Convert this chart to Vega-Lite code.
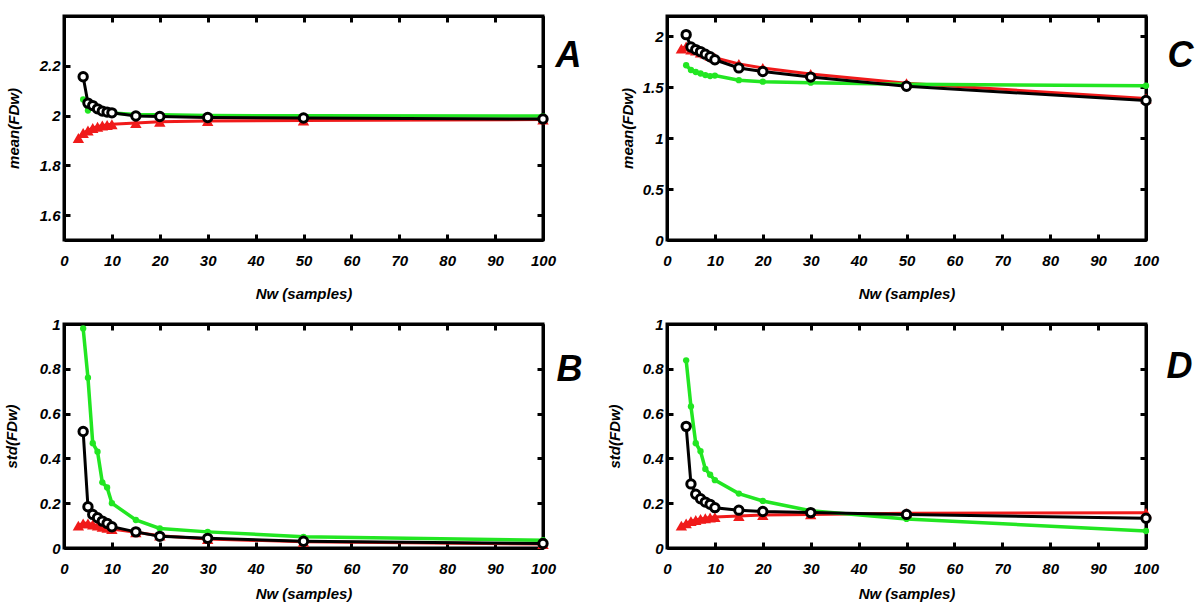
{
  "$schema": "https://vega.github.io/schema/vega-lite/v6.json",
  "autosize": {"type": "pad"},
  "padding": {"left": 2, "top": 13, "right": 5, "bottom": 5},
  "background": "white",
  "bounds": "flush",
  "columns": 2,
  "spacing": {"row": 84, "column": 124},
  "datasets": {
    "d": [
      {"p":"A","s":"red","x":3,"y":1.91},{"p":"A","s":"red","x":4,"y":1.93},{"p":"A","s":"red","x":5,"y":1.94},{"p":"A","s":"red","x":6,"y":1.95},{"p":"A","s":"red","x":7,"y":1.955},{"p":"A","s":"red","x":8,"y":1.96},{"p":"A","s":"red","x":9,"y":1.962},{"p":"A","s":"red","x":10,"y":1.965},{"p":"A","s":"red","x":15,"y":1.97},{"p":"A","s":"red","x":20,"y":1.975},{"p":"A","s":"red","x":30,"y":1.978},{"p":"A","s":"red","x":50,"y":1.98},{"p":"A","s":"red","x":100,"y":1.984},
      {"p":"A","s":"green","x":4,"y":2.065},{"p":"A","s":"green","x":5,"y":2.02},{"p":"A","s":"green","x":6,"y":2.03},{"p":"A","s":"green","x":7,"y":2.022},{"p":"A","s":"green","x":8,"y":2.015},{"p":"A","s":"green","x":9,"y":2.012},{"p":"A","s":"green","x":10,"y":2.01},{"p":"A","s":"green","x":15,"y":2.004},{"p":"A","s":"green","x":20,"y":2.003},{"p":"A","s":"green","x":30,"y":2.0},{"p":"A","s":"green","x":50,"y":1.999},{"p":"A","s":"green","x":100,"y":1.998},
      {"p":"A","s":"black","x":4,"y":2.156},{"p":"A","s":"black","x":5,"y":2.05},{"p":"A","s":"black","x":6,"y":2.04},{"p":"A","s":"black","x":7,"y":2.027},{"p":"A","s":"black","x":8,"y":2.018},{"p":"A","s":"black","x":9,"y":2.014},{"p":"A","s":"black","x":10,"y":2.011},{"p":"A","s":"black","x":15,"y":1.998},{"p":"A","s":"black","x":20,"y":1.996},{"p":"A","s":"black","x":30,"y":1.992},{"p":"A","s":"black","x":50,"y":1.99},{"p":"A","s":"black","x":100,"y":1.986},

      {"p":"C","s":"red","x":3,"y":1.88},{"p":"C","s":"red","x":4,"y":1.9},{"p":"C","s":"red","x":5,"y":1.87},{"p":"C","s":"red","x":6,"y":1.86},{"p":"C","s":"red","x":7,"y":1.84},{"p":"C","s":"red","x":8,"y":1.83},{"p":"C","s":"red","x":9,"y":1.81},{"p":"C","s":"red","x":10,"y":1.79},{"p":"C","s":"red","x":15,"y":1.73},{"p":"C","s":"red","x":20,"y":1.69},{"p":"C","s":"red","x":30,"y":1.63},{"p":"C","s":"red","x":50,"y":1.54},{"p":"C","s":"red","x":100,"y":1.39},
      {"p":"C","s":"green","x":4,"y":1.716},{"p":"C","s":"green","x":5,"y":1.67},{"p":"C","s":"green","x":6,"y":1.65},{"p":"C","s":"green","x":7,"y":1.635},{"p":"C","s":"green","x":8,"y":1.62},{"p":"C","s":"green","x":9,"y":1.61},{"p":"C","s":"green","x":10,"y":1.615},{"p":"C","s":"green","x":15,"y":1.57},{"p":"C","s":"green","x":20,"y":1.555},{"p":"C","s":"green","x":30,"y":1.545},{"p":"C","s":"green","x":50,"y":1.53},{"p":"C","s":"green","x":100,"y":1.515},
      {"p":"C","s":"black","x":4,"y":2.017},{"p":"C","s":"black","x":5,"y":1.895},{"p":"C","s":"black","x":6,"y":1.87},{"p":"C","s":"black","x":7,"y":1.85},{"p":"C","s":"black","x":8,"y":1.825},{"p":"C","s":"black","x":9,"y":1.8},{"p":"C","s":"black","x":10,"y":1.77},{"p":"C","s":"black","x":15,"y":1.69},{"p":"C","s":"black","x":20,"y":1.655},{"p":"C","s":"black","x":30,"y":1.6},{"p":"C","s":"black","x":50,"y":1.51},{"p":"C","s":"black","x":100,"y":1.37},

      {"p":"B","s":"red","x":3,"y":0.1},{"p":"B","s":"red","x":4,"y":0.11},{"p":"B","s":"red","x":5,"y":0.11},{"p":"B","s":"red","x":6,"y":0.105},{"p":"B","s":"red","x":7,"y":0.1},{"p":"B","s":"red","x":8,"y":0.095},{"p":"B","s":"red","x":9,"y":0.09},{"p":"B","s":"red","x":10,"y":0.085},{"p":"B","s":"red","x":15,"y":0.07},{"p":"B","s":"red","x":20,"y":0.055},{"p":"B","s":"red","x":30,"y":0.04},{"p":"B","s":"red","x":50,"y":0.028},{"p":"B","s":"red","x":100,"y":0.018},
      {"p":"B","s":"green","x":4,"y":0.98},{"p":"B","s":"green","x":5,"y":0.76},{"p":"B","s":"green","x":6,"y":0.468},{"p":"B","s":"green","x":7,"y":0.43},{"p":"B","s":"green","x":8,"y":0.293},{"p":"B","s":"green","x":9,"y":0.27},{"p":"B","s":"green","x":10,"y":0.2},{"p":"B","s":"green","x":15,"y":0.125},{"p":"B","s":"green","x":20,"y":0.087},{"p":"B","s":"green","x":30,"y":0.072},{"p":"B","s":"green","x":50,"y":0.05},{"p":"B","s":"green","x":100,"y":0.035},
      {"p":"B","s":"black","x":4,"y":0.52},{"p":"B","s":"black","x":5,"y":0.184},{"p":"B","s":"black","x":6,"y":0.15},{"p":"B","s":"black","x":7,"y":0.135},{"p":"B","s":"black","x":8,"y":0.12},{"p":"B","s":"black","x":9,"y":0.11},{"p":"B","s":"black","x":10,"y":0.095},{"p":"B","s":"black","x":15,"y":0.072},{"p":"B","s":"black","x":20,"y":0.052},{"p":"B","s":"black","x":30,"y":0.043},{"p":"B","s":"black","x":50,"y":0.03},{"p":"B","s":"black","x":100,"y":0.02},

      {"p":"D","s":"red","x":3,"y":0.1},{"p":"D","s":"red","x":4,"y":0.11},{"p":"D","s":"red","x":5,"y":0.12},{"p":"D","s":"red","x":6,"y":0.125},{"p":"D","s":"red","x":7,"y":0.13},{"p":"D","s":"red","x":8,"y":0.133},{"p":"D","s":"red","x":9,"y":0.136},{"p":"D","s":"red","x":10,"y":0.138},{"p":"D","s":"red","x":15,"y":0.143},{"p":"D","s":"red","x":20,"y":0.147},{"p":"D","s":"red","x":30,"y":0.15},{"p":"D","s":"red","x":50,"y":0.155},{"p":"D","s":"red","x":100,"y":0.157},
      {"p":"D","s":"green","x":4,"y":0.838},{"p":"D","s":"green","x":5,"y":0.632},{"p":"D","s":"green","x":6,"y":0.468},{"p":"D","s":"green","x":7,"y":0.432},{"p":"D","s":"green","x":8,"y":0.353},{"p":"D","s":"green","x":9,"y":0.327},{"p":"D","s":"green","x":10,"y":0.303},{"p":"D","s":"green","x":15,"y":0.243},{"p":"D","s":"green","x":20,"y":0.21},{"p":"D","s":"green","x":30,"y":0.166},{"p":"D","s":"green","x":50,"y":0.13},{"p":"D","s":"green","x":100,"y":0.076},
      {"p":"D","s":"black","x":4,"y":0.543},{"p":"D","s":"black","x":5,"y":0.286},{"p":"D","s":"black","x":6,"y":0.24},{"p":"D","s":"black","x":7,"y":0.22},{"p":"D","s":"black","x":8,"y":0.205},{"p":"D","s":"black","x":9,"y":0.195},{"p":"D","s":"black","x":10,"y":0.18},{"p":"D","s":"black","x":15,"y":0.169},{"p":"D","s":"black","x":20,"y":0.163},{"p":"D","s":"black","x":30,"y":0.158},{"p":"D","s":"black","x":50,"y":0.15},{"p":"D","s":"black","x":100,"y":0.133}
    ]
  },
  "data": {"name": "d"},
  "concat": [
    {
      "width": 479, "height": 224,
      "transform": [{"filter": "datum.p === 'A'"}],
      "resolve": {"axis": {"x": "independent", "y": "independent"}},
      "layer": [
        {"transform": [{"filter": "datum.s === 'red'"}], "mark": {"type": "line", "color": "#f01a1a", "strokeWidth": 3}, "encoding": {"x": {"field": "x", "type": "quantitative", "scale": {"domain": [0, 100], "nice": false}, "axis": {"orient": "bottom", "values": [0,10,20,30,40,50,60,70,80,90,100], "format": "d", "title": "Nw (samples)", "titlePadding": 18}}, "y": {"field": "y", "type": "quantitative", "scale": {"domain": [1.5, 2.4], "nice": false, "zero": false}, "axis": {"orient": "left", "values": [1.6,1.8,2,2.2], "format": "~f", "title": "mean(FDw)", "titlePadding": 18}}}},
        {"transform": [{"filter": "datum.s === 'red'"}], "mark": {"type": "point", "shape": "triangle-up", "filled": true, "color": "#f01a1a", "size": 130, "opacity": 1}, "encoding": {"x": {"field": "x", "type": "quantitative", "axis": null}, "y": {"field": "y", "type": "quantitative", "axis": null}}},
        {"transform": [{"filter": "datum.s === 'green'"}], "mark": {"type": "line", "color": "#22e622", "strokeWidth": 3.5, "point": {"filled": true, "color": "#22e622", "size": 40, "opacity": 1}}, "encoding": {"x": {"field": "x", "type": "quantitative", "axis": null}, "y": {"field": "y", "type": "quantitative", "axis": null}}},
        {"transform": [{"filter": "datum.s === 'black'"}], "mark": {"type": "line", "color": "black", "strokeWidth": 3}, "encoding": {"x": {"field": "x", "type": "quantitative", "axis": {"orient": "top", "values": [0,10,20,30,40,50,60,70,80,90,100], "labels": false, "title": null}}, "y": {"field": "y", "type": "quantitative", "axis": {"orient": "right", "values": [1.6,1.8,2,2.2], "labels": false, "title": "A", "titleX": 12, "titleY": 22}}}},
        {"transform": [{"filter": "datum.s === 'black'"}], "mark": {"type": "point", "shape": "circle", "filled": false, "fill": "white", "fillOpacity": 1, "stroke": "black", "strokeWidth": 3, "size": 70, "opacity": 1}, "encoding": {"x": {"field": "x", "type": "quantitative", "axis": null}, "y": {"field": "y", "type": "quantitative", "axis": null}}}
      ]
    },
    {
      "width": 479, "height": 224,
      "transform": [{"filter": "datum.p === 'C'"}],
      "resolve": {"axis": {"x": "independent", "y": "independent"}},
      "layer": [
        {"transform": [{"filter": "datum.s === 'red'"}], "mark": {"type": "line", "color": "#f01a1a", "strokeWidth": 3}, "encoding": {"x": {"field": "x", "type": "quantitative", "scale": {"domain": [0, 100], "nice": false}, "axis": {"orient": "bottom", "values": [0,10,20,30,40,50,60,70,80,90,100], "format": "d", "title": "Nw (samples)", "titlePadding": 18}}, "y": {"field": "y", "type": "quantitative", "scale": {"domain": [0, 2.2], "nice": false}, "axis": {"orient": "left", "values": [0,0.5,1,1.5,2], "format": "~f", "title": "mean(FDw)", "titlePadding": 7}}}},
        {"transform": [{"filter": "datum.s === 'red'"}], "mark": {"type": "point", "shape": "triangle-up", "filled": true, "color": "#f01a1a", "size": 130, "opacity": 1}, "encoding": {"x": {"field": "x", "type": "quantitative", "axis": null}, "y": {"field": "y", "type": "quantitative", "axis": null}}},
        {"transform": [{"filter": "datum.s === 'green'"}], "mark": {"type": "line", "color": "#22e622", "strokeWidth": 3.5, "point": {"filled": true, "color": "#22e622", "size": 40, "opacity": 1}}, "encoding": {"x": {"field": "x", "type": "quantitative", "axis": null}, "y": {"field": "y", "type": "quantitative", "axis": null}}},
        {"transform": [{"filter": "datum.s === 'black'"}], "mark": {"type": "line", "color": "black", "strokeWidth": 3}, "encoding": {"x": {"field": "x", "type": "quantitative", "axis": {"orient": "top", "values": [0,10,20,30,40,50,60,70,80,90,100], "labels": false, "title": null}}, "y": {"field": "y", "type": "quantitative", "axis": {"orient": "right", "values": [0,0.5,1,1.5,2], "labels": false, "title": "C", "titleX": 21, "titleY": 22}}}},
        {"transform": [{"filter": "datum.s === 'black'"}], "mark": {"type": "point", "shape": "circle", "filled": false, "fill": "white", "fillOpacity": 1, "stroke": "black", "strokeWidth": 3, "size": 70, "opacity": 1}, "encoding": {"x": {"field": "x", "type": "quantitative", "axis": null}, "y": {"field": "y", "type": "quantitative", "axis": null}}}
      ]
    },
    {
      "width": 479, "height": 224,
      "transform": [{"filter": "datum.p === 'B'"}],
      "resolve": {"axis": {"x": "independent", "y": "independent"}},
      "layer": [
        {"transform": [{"filter": "datum.s === 'red'"}], "mark": {"type": "line", "color": "#f01a1a", "strokeWidth": 3}, "encoding": {"x": {"field": "x", "type": "quantitative", "scale": {"domain": [0, 100], "nice": false}, "axis": {"orient": "bottom", "values": [0,10,20,30,40,50,60,70,80,90,100], "format": "d", "title": "Nw (samples)", "titlePadding": 10}}, "y": {"field": "y", "type": "quantitative", "scale": {"domain": [0, 1], "nice": false}, "axis": {"orient": "left", "values": [0,0.2,0.4,0.6,0.8,1], "format": "~f", "title": "std(FDw)", "titlePadding": 20}}}},
        {"transform": [{"filter": "datum.s === 'red'"}], "mark": {"type": "point", "shape": "triangle-up", "filled": true, "color": "#f01a1a", "size": 130, "opacity": 1}, "encoding": {"x": {"field": "x", "type": "quantitative", "axis": null}, "y": {"field": "y", "type": "quantitative", "axis": null}}},
        {"transform": [{"filter": "datum.s === 'green'"}], "mark": {"type": "line", "color": "#22e622", "strokeWidth": 3.5, "point": {"filled": true, "color": "#22e622", "size": 40, "opacity": 1}}, "encoding": {"x": {"field": "x", "type": "quantitative", "axis": null}, "y": {"field": "y", "type": "quantitative", "axis": null}}},
        {"transform": [{"filter": "datum.s === 'black'"}], "mark": {"type": "line", "color": "black", "strokeWidth": 3}, "encoding": {"x": {"field": "x", "type": "quantitative", "axis": {"orient": "top", "values": [0,10,20,30,40,50,60,70,80,90,100], "labels": false, "title": null}}, "y": {"field": "y", "type": "quantitative", "axis": {"orient": "right", "values": [0,0.2,0.4,0.6,0.8,1], "labels": false, "title": "B", "titleX": 13, "titleY": 28}}}},
        {"transform": [{"filter": "datum.s === 'black'"}], "mark": {"type": "point", "shape": "circle", "filled": false, "fill": "white", "fillOpacity": 1, "stroke": "black", "strokeWidth": 3, "size": 70, "opacity": 1}, "encoding": {"x": {"field": "x", "type": "quantitative", "axis": null}, "y": {"field": "y", "type": "quantitative", "axis": null}}}
      ]
    },
    {
      "width": 479, "height": 224,
      "transform": [{"filter": "datum.p === 'D'"}],
      "resolve": {"axis": {"x": "independent", "y": "independent"}},
      "layer": [
        {"transform": [{"filter": "datum.s === 'red'"}], "mark": {"type": "line", "color": "#f01a1a", "strokeWidth": 3}, "encoding": {"x": {"field": "x", "type": "quantitative", "scale": {"domain": [0, 100], "nice": false}, "axis": {"orient": "bottom", "values": [0,10,20,30,40,50,60,70,80,90,100], "format": "d", "title": "Nw (samples)", "titlePadding": 10}}, "y": {"field": "y", "type": "quantitative", "scale": {"domain": [0, 1], "nice": false}, "axis": {"orient": "left", "values": [0,0.2,0.4,0.6,0.8,1], "format": "~f", "title": "std(FDw)", "titlePadding": 20}}}},
        {"transform": [{"filter": "datum.s === 'red'"}], "mark": {"type": "point", "shape": "triangle-up", "filled": true, "color": "#f01a1a", "size": 130, "opacity": 1}, "encoding": {"x": {"field": "x", "type": "quantitative", "axis": null}, "y": {"field": "y", "type": "quantitative", "axis": null}}},
        {"transform": [{"filter": "datum.s === 'green'"}], "mark": {"type": "line", "color": "#22e622", "strokeWidth": 3.5, "point": {"filled": true, "color": "#22e622", "size": 40, "opacity": 1}}, "encoding": {"x": {"field": "x", "type": "quantitative", "axis": null}, "y": {"field": "y", "type": "quantitative", "axis": null}}},
        {"transform": [{"filter": "datum.s === 'black'"}], "mark": {"type": "line", "color": "black", "strokeWidth": 3}, "encoding": {"x": {"field": "x", "type": "quantitative", "axis": {"orient": "top", "values": [0,10,20,30,40,50,60,70,80,90,100], "labels": false, "title": null}}, "y": {"field": "y", "type": "quantitative", "axis": {"orient": "right", "values": [0,0.2,0.4,0.6,0.8,1], "labels": false, "title": "D", "titleX": 20, "titleY": 25}}}},
        {"transform": [{"filter": "datum.s === 'black'"}], "mark": {"type": "point", "shape": "circle", "filled": false, "fill": "white", "fillOpacity": 1, "stroke": "black", "strokeWidth": 3, "size": 70, "opacity": 1}, "encoding": {"x": {"field": "x", "type": "quantitative", "axis": null}, "y": {"field": "y", "type": "quantitative", "axis": null}}}
      ]
    }
  ],
  "config": {
    "view": {"stroke": "black", "strokeWidth": 3},
    "font": "Liberation Sans",
    "axis": {
      "grid": false,
      "domain": true, "domainColor": "black", "domainWidth": 3,
      "ticks": true, "tickColor": "black", "tickWidth": 3, "tickSize": -6,
      "labelFont": "Liberation Sans",
      "labelFontSize": 15, "labelFontStyle": "italic", "labelFontWeight": "bold", "labelColor": "black",
      "labelFlush": false, "labelOverlap": false,
      "titleFont": "Liberation Sans",
      "titleFontSize": 15, "titleFontStyle": "italic", "titleFontWeight": "bold", "titleColor": "black"
    },
    "axisBottom": {"labelPadding": 19},
    "axisLeft": {"labelPadding": 10},
    "axisRight": {"titleFontSize": 36, "titleAngle": 0, "titleAlign": "left", "titleBaseline": "top"}
  }
}
